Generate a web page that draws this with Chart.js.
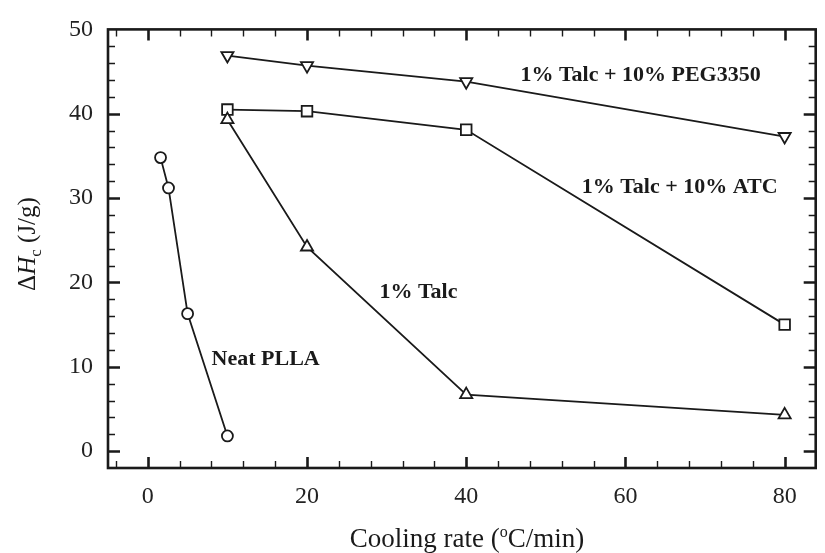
<!DOCTYPE html>
<html>
<head>
<meta charset="utf-8">
<script src="https://cdn.jsdelivr.net/npm/chart.js@4/dist/chart.umd.min.js"></script>
<style>
  html, body { margin: 0; padding: 0; background: #fff; }
  #wrap { width: 825px; height: 553px; }
</style>
</head>
<body>
<div id="wrap"><canvas id="c" width="825" height="553"></canvas></div>
<script>
// Crystallization enthalpy vs. cooling rate
const coolingNeat  = [1.6, 2.6, 5, 10];
const dhNeat       = [34.8, 31.2, 16.3, 1.8];

const coolingRates = [10, 20, 40, 80];
const dhTalc       = [39.3, 24.2, 6.7, 4.3];
const dhTalcAtc    = [40.5, 40.3, 38.1, 15.0];
const dhTalcPeg    = [46.9, 45.7, 43.8, 37.3];

const seriesNames  = ['Neat PLLA', '1% Talc', '1% Talc + 10% ATC', '1% Talc + 10% PEG3350'];

const xTickValues  = [0, 20, 40, 60, 80];
const yTickValues  = [0, 10, 20, 30, 40, 50];

// Curve annotations, placed in data units
const curveLabels = [
  { text: seriesNames[3], x: 61.9, y: 44.6 },
  { text: seriesNames[2], x: 66.8, y: 31.3 },
  { text: seriesNames[1], x: 34.0, y: 18.8 },
  { text: seriesNames[0], x: 14.8, y: 10.9 }
];

const SERIF = '"Liberation Serif", "DejaVu Serif", serif';
const INK = '#1a1a1a';

function pts(xs, ys) { return xs.map((x, i) => ({ x: x, y: ys[i] })); }

function ds(label, data, style, extra) {
  return Object.assign({
    label: label,
    data: data,
    showLine: true,
    borderColor: INK,
    borderWidth: 1.8,
    backgroundColor: '#fff',
    pointBackgroundColor: '#fff',
    pointBorderColor: INK,
    pointBorderWidth: 1.8,
    pointStyle: style,
    pointRadius: 6,
    tension: 0
  }, extra || {});
}

// Frame, inward ticks, titles and curve annotations
const decorations = {
  id: 'decorations',
  afterDatasetsDraw(chart) {
    const ctx = chart.ctx;
    const xs = chart.scales.x, ys = chart.scales.y;
    ctx.save();
    ctx.fillStyle = INK;
    ctx.font = 'bold 22px ' + SERIF;
    ctx.textAlign = 'center';
    ctx.textBaseline = 'middle';
    curveLabels.forEach(l => {
      ctx.fillText(l.text, xs.getPixelForValue(l.x), ys.getPixelForValue(l.y));
    });
    ctx.restore();
  },
  afterDraw(chart) {
    const ctx = chart.ctx;
    const a = chart.chartArea;
    const xs = chart.scales.x, ys = chart.scales.y;
    ctx.save();
    ctx.strokeStyle = INK;
    ctx.lineCap = 'butt';

    // x ticks (bottom and top), minor every 4
    for (let v = -4; v <= 84; v += 4) {
      const major = v % 20 === 0;
      const px = Math.round(xs.getPixelForValue(v)) + 0.5;
      if (px <= a.left + 1 || px >= a.right - 1) continue;
      const len = major ? 11 : 7;
      ctx.lineWidth = major ? 2.6 : 1.4;
      ctx.beginPath();
      ctx.moveTo(px, a.bottom); ctx.lineTo(px, a.bottom - len);
      ctx.moveTo(px, a.top); ctx.lineTo(px, a.top + len);
      ctx.stroke();
    }
    // y ticks (left and right), minor every 2
    for (let v = 0; v <= 50; v += 2) {
      const major = v % 10 === 0;
      const py = Math.round(ys.getPixelForValue(v)) + 0.5;
      if (py <= a.top + 1 || py >= a.bottom - 1) continue;
      const len = major ? 12 : 7;
      ctx.lineWidth = major ? 2.6 : 1.4;
      ctx.beginPath();
      ctx.moveTo(a.left, py); ctx.lineTo(a.left + len, py);
      ctx.moveTo(a.right, py); ctx.lineTo(a.right - len, py);
      ctx.stroke();
    }
    // frame
    ctx.lineWidth = 2.6;
    ctx.strokeRect(a.left, a.top, a.right - a.left, a.bottom - a.top);

    // x-axis title with superscript degree mark
    ctx.fillStyle = INK;
    ctx.textBaseline = 'alphabetic';
    ctx.textAlign = 'left';
    const big = '27px ' + SERIF, small = '16px ' + SERIF;
    const p1 = 'Cooling rate (', p2 = 'o', p3 = 'C/min)';
    ctx.font = big; const w1 = ctx.measureText(p1).width, w3 = ctx.measureText(p3).width;
    ctx.font = small; const w2 = ctx.measureText(p2).width;
    let x0 = 467 - (w1 + w2 + w3) / 2;
    const by = 547;
    ctx.font = big; ctx.fillText(p1, x0, by); x0 += w1;
    ctx.font = small; ctx.fillText(p2, x0, by - 10); x0 += w2;
    ctx.font = big; ctx.fillText(p3, x0, by);

    // y-axis title: ΔH_c (J/g), rotated
    ctx.save();
    ctx.translate(35, 244);
    ctx.rotate(-Math.PI / 2);
    const fD = '25px ' + SERIF, fH = 'italic 25px ' + SERIF, fs = '17px ' + SERIF;
    const q = [['Δ', fD, 0], ['H', fH, 0], ['c', fs, 6], [' (J/g)', fD, 0]];
    let tw = 0;
    q.forEach(s => { ctx.font = s[1]; s.push(ctx.measureText(s[0]).width); tw += s[3]; });
    let cx = -tw / 2;
    q.forEach(s => { ctx.font = s[1]; ctx.fillText(s[0], cx, s[2]); cx += s[3]; });
    ctx.restore();

    ctx.restore();
  }
};

new Chart(document.getElementById('c'), {
  type: 'scatter',
  data: {
    datasets: [
      ds(seriesNames[0], pts(coolingNeat, dhNeat), 'circle', { pointRadius: 5.5 }),
      ds(seriesNames[1], pts(coolingRates, dhTalc), 'triangle', { pointRadius: 7 }),
      ds(seriesNames[2], pts(coolingRates, dhTalcAtc), 'rect', { pointRadius: 7.5 }),
      ds(seriesNames[3], pts(coolingRates, dhTalcPeg), 'triangle', { pointRadius: 7, pointRotation: 180 })
    ]
  },
  options: {
    responsive: false,
    animation: false,
    devicePixelRatio: 1,
    layout: { padding: { top: 22, right: 6, left: 0, bottom: 0 } },
    plugins: { legend: { display: false }, tooltip: { enabled: false } },
    scales: {
      x: {
        type: 'linear',
        min: -5, max: 83.9,
        grid: { display: false, drawTicks: false },
        border: { display: false },
        afterFit(s) { s.height = 85; },
        afterBuildTicks(s) { s.ticks = xTickValues.map(v => ({ value: v })); },
        ticks: { color: '#222', font: { family: SERIF, size: 24 }, padding: 14, maxRotation: 0 }
      },
      y: {
        type: 'linear',
        min: -2, max: 50,
        grid: { display: false, drawTicks: false },
        border: { display: false },
        afterFit(s) { s.width = 108; },
        afterBuildTicks(s) { s.ticks = yTickValues.map(v => ({ value: v })); },
        ticks: { color: '#222', font: { family: SERIF, size: 24 }, padding: 15 }
      }
    }
  },
  plugins: [decorations]
});
</script>
</body>
</html>
